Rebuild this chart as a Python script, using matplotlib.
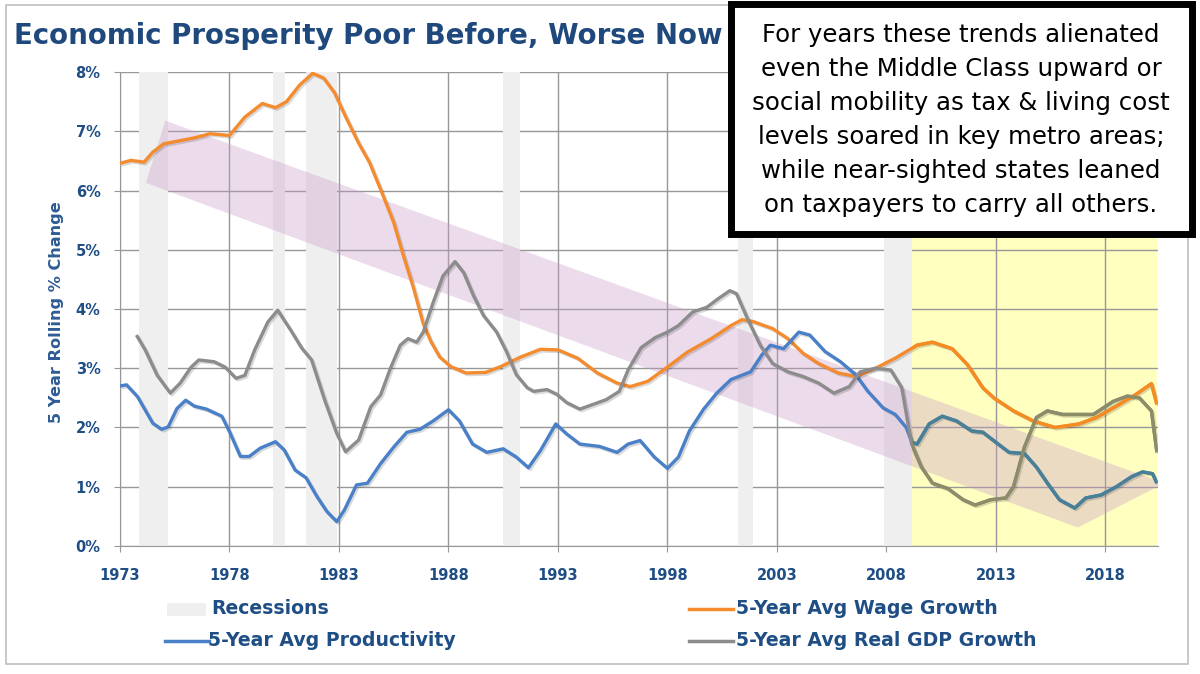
import numpy as np
import matplotlib
matplotlib.use("Agg")
import matplotlib.pyplot as plt
from matplotlib.patches import Rectangle, Polygon
from matplotlib.lines import Line2D
import matplotlib.patheffects as pe

plt.rcParams['font.family'] = ['DejaVu Sans']

# 5-year rolling % change
wage_years = [1973.0, 1973.5, 1974.1, 1974.5, 1975.0, 1975.7, 1976.4, 1977.1, 1978.0, 1978.7,
              1979.5, 1980.1, 1980.6, 1981.2, 1981.8, 1982.3, 1982.8, 1983.3, 1983.9, 1984.4,
              1984.9, 1985.5, 1985.9, 1986.4, 1986.85, 1987.2, 1987.6, 1988.1, 1988.8, 1989.7,
              1990.4, 1991.3, 1992.2, 1993.0, 1993.9, 1994.8, 1995.7, 1996.3, 1997.1, 1998.0,
              1998.9, 2000.0, 2000.9, 2001.4, 2001.9, 2002.8, 2003.5, 2004.2, 2004.9, 2005.8,
              2006.6, 2007.5, 2008.4, 2008.9, 2009.4, 2010.1, 2011.0, 2011.7, 2012.4, 2012.9,
              2013.8, 2014.7, 2015.7, 2016.8, 2017.6, 2018.5, 2019.4, 2020.1, 2020.35]
wage_vals = [6.46, 6.51, 6.48, 6.65, 6.79, 6.84, 6.89, 6.96, 6.93, 7.24,
             7.47, 7.40, 7.50, 7.78, 7.98, 7.90, 7.65, 7.25, 6.80, 6.47,
             6.02, 5.46, 4.95, 4.36, 3.75, 3.45, 3.19, 3.03, 2.92, 2.93,
             3.03, 3.19, 3.32, 3.31, 3.17, 2.92, 2.75, 2.69, 2.78, 3.02,
             3.27, 3.50, 3.72, 3.82, 3.79, 3.67, 3.50, 3.25, 3.08, 2.92,
             2.86, 3.00, 3.17, 3.28, 3.39, 3.44, 3.33, 3.06, 2.67, 2.50,
             2.28, 2.11, 2.00, 2.06, 2.17, 2.36, 2.56, 2.74, 2.39]

prod_years = [1973.0, 1973.3, 1973.8, 1974.5, 1974.9, 1975.2, 1975.6, 1976.0, 1976.4, 1976.95,
              1977.65, 1978.0, 1978.5, 1978.9, 1979.4, 1980.1, 1980.5, 1981.0, 1981.5, 1982.0,
              1982.45, 1982.9, 1983.25, 1983.8, 1984.3, 1984.9, 1985.5, 1986.1, 1986.7, 1987.3,
              1988.0, 1988.5, 1989.1, 1989.75, 1990.5, 1991.1, 1991.65, 1992.2, 1992.9, 1993.4,
              1994.0, 1994.9, 1995.7, 1996.2, 1996.75, 1997.4, 1998.0, 1998.5, 1999.0, 1999.65,
              2000.25, 2000.9, 2001.8, 2002.3, 2002.7, 2003.3, 2004.0, 2004.5, 2005.2, 2005.9,
              2006.6, 2007.15, 2007.85, 2008.4, 2008.9, 2009.16, 2009.4, 2009.95, 2010.55, 2011.2,
              2011.9, 2012.4, 2013.1, 2013.6, 2014.3, 2014.85, 2015.35, 2015.9, 2016.6, 2017.1,
              2017.8, 2018.5, 2019.2, 2019.7, 2020.15, 2020.35]
prod_vals = [2.70, 2.72, 2.52, 2.07, 1.97, 2.01, 2.32, 2.46, 2.36, 2.31,
             2.19, 1.93, 1.51, 1.51, 1.65, 1.76, 1.62, 1.28, 1.15, 0.83,
             0.58, 0.41, 0.61, 1.03, 1.06, 1.39, 1.67, 1.92, 1.97, 2.11,
             2.30, 2.11, 1.72, 1.58, 1.64, 1.50, 1.32, 1.61, 2.06, 1.89,
             1.72, 1.68, 1.58, 1.72, 1.78, 1.50, 1.31, 1.50, 1.94, 2.31,
             2.58, 2.81, 2.94, 3.22, 3.39, 3.33, 3.61, 3.56, 3.28, 3.11,
             2.89, 2.61, 2.33, 2.22, 2.00, 1.75, 1.72, 2.06, 2.19, 2.11,
             1.94, 1.92, 1.72, 1.58, 1.56, 1.33, 1.06, 0.78, 0.64, 0.81,
             0.86, 1.00, 1.17, 1.25, 1.22, 1.06]

gdp_years = [1973.75, 1974.15, 1974.7, 1975.3, 1975.75, 1976.25, 1976.6, 1977.3, 1977.8, 1978.3,
             1978.7, 1979.15, 1979.75, 1980.2, 1980.8, 1981.3, 1981.75, 1982.35, 1982.9, 1983.3,
             1983.9, 1984.45, 1984.9, 1985.35, 1985.8, 1986.15, 1986.55, 1986.85, 1987.3, 1987.75,
             1988.3, 1988.7, 1989.15, 1989.6, 1990.2, 1990.65, 1991.1, 1991.6, 1991.9, 1992.5,
             1992.95, 1993.4, 1994.0, 1994.6, 1995.2, 1995.8, 1996.2, 1996.8, 1997.45, 1998.0,
             1998.5, 1999.15, 1999.8, 2000.3, 2000.85, 2001.15, 2001.7, 2002.25, 2002.8, 2003.5,
             2004.2, 2004.9, 2005.6, 2006.3, 2006.8, 2007.5, 2008.2, 2008.7, 2009.15, 2009.6,
             2010.1, 2010.8, 2011.5, 2012.05, 2012.75, 2013.45, 2013.8, 2014.3, 2014.85, 2015.35,
             2016.05, 2016.75, 2017.45, 2018.35, 2019.0, 2019.55, 2020.1, 2020.35]
gdp_vals = [3.56, 3.31, 2.88, 2.58, 2.75, 3.02, 3.14, 3.11, 3.02, 2.83,
            2.88, 3.31, 3.78, 3.98, 3.64, 3.34, 3.14, 2.46, 1.90, 1.59,
            1.79, 2.35, 2.55, 3.00, 3.39, 3.50, 3.44, 3.61, 4.11, 4.56,
            4.80, 4.61, 4.22, 3.89, 3.61, 3.28, 2.89, 2.67, 2.61, 2.64,
            2.56, 2.42, 2.31, 2.39, 2.47, 2.61, 2.97, 3.35, 3.52, 3.61,
            3.72, 3.95, 4.03, 4.17, 4.31, 4.26, 3.80, 3.38, 3.08, 2.94,
            2.86, 2.75, 2.58, 2.69, 2.94, 3.00, 2.97, 2.67, 1.72, 1.33,
            1.06, 0.97, 0.78, 0.69, 0.78, 0.81, 1.00, 1.67, 2.17, 2.28,
            2.22, 2.22, 2.22, 2.44, 2.53, 2.50, 2.28, 1.58]

recessions = [(1973.85, 1975.2), (1980.0, 1980.55), (1981.5, 1982.9),
              (1990.5, 1991.25), (2001.2, 2001.9), (2007.9, 2009.15)]
highlight = (2009.15, 2020.35)
trend_band = [(1975.07, 7.18), (2020.69, 1.06), (2016.74, 0.31), (1974.18, 6.13)]
year_ticks = list(range(1973, 2019, 5))

TITLE_BLUE = '#1F497D'
TEXT_BLUE = '#1F4E85'
ORANGE = '#F58B2F'
BLUE = '#4A80C8'
GREY = '#8C8C8C'


def tint(c):
    # multiply a colour by the pale yellow of the highlight area
    r, g, b = matplotlib.colors.to_rgb(c)
    return (r, g, b * 0.75)


fig = plt.figure(figsize=(12, 6.74), dpi=100)
ax = fig.add_axes([0.1, 0.19, 0.865, 0.703])
ax.set_xlim(1973, 2020.4)
ax.set_ylim(0, 8)

# background layers
ax.axvspan(*highlight, color='#FFFFC0', zorder=0.2, lw=0)
ax.set_axisbelow(True)
ax.grid(True, color='#989898', lw=1.0)
for a, b in recessions:
    ax.axvspan(a, b, color='#EFEFEF', zorder=1, lw=0)
ax.add_patch(Polygon(trend_band, closed=True, facecolor='#C79AC8', alpha=0.35,
                     edgecolor='none', zorder=1.5))

yellow_clip = Rectangle((highlight[0], 0), highlight[1] - highlight[0], 8,
                        transform=ax.transData, visible=False)
ax.add_patch(yellow_clip)

shadow = [pe.SimpleLineShadow(offset=(1.2, -1.2), alpha=0.15, rho=0.3), pe.Normal()]
series = [(wage_years, wage_vals, ORANGE), (prod_years, prod_vals, BLUE),
          (gdp_years, gdp_vals, GREY)]
for xs, ys, col in series:
    ax.plot(xs, ys, color=col, lw=2.4, zorder=3, path_effects=shadow,
            solid_joinstyle='round', solid_capstyle='butt')
for xs, ys, col in series:
    ln, = ax.plot(xs, ys, color=tint(col), lw=2.4, zorder=3.1,
                  solid_joinstyle='round', solid_capstyle='butt')
    ln.set_clip_path(yellow_clip)

ax.set_xticks(year_ticks)
ax.set_yticks(range(0, 9))
ax.yaxis.set_major_formatter(matplotlib.ticker.FuncFormatter(lambda v, p: f'{int(v)}%'))
ax.tick_params(axis='both', colors='#989898', length=4, labelcolor=TEXT_BLUE,
               labelsize=10.5)
ax.tick_params(axis='x', pad=12)
ax.tick_params(axis='y', pad=10)
for lbl in ax.get_xticklabels() + ax.get_yticklabels():
    lbl.set_fontweight('bold')
for s in ['top', 'right']:
    ax.spines[s].set_visible(False)
for s in ['left', 'bottom']:
    ax.spines[s].set_color('#989898')
    ax.spines[s].set_zorder(2)


def px(x, y):
    return x / 1200, 1 - y / 674


fig.text(*px(57, 312), '5 Year Rolling % Change', rotation=90,
         ha='center', va='center', fontsize=11.6, fontweight='bold', color='#2E5C94')

# title
fig.text(*px(14, 44), 'Economic Prosperity Poor Before, Worse Now',
         ha='left', va='baseline', fontsize=19.9, fontweight='bold', color=TITLE_BLUE)

# outer frame
fig.add_artist(Rectangle(px(6, 664), 1182 / 1200, 659 / 674,
                         transform=fig.transFigure, fill=False, edgecolor='#BFBFBF', lw=1.2))

# legend drawn by hand
fig.add_artist(Rectangle(px(167, 616), 39 / 1200, 13 / 674, transform=fig.transFigure,
                         facecolor='#EFEFEF', edgecolor='none'))
for (x0, y0), col in [((689, 609), ORANGE), ((165, 641), BLUE), ((689, 641), GREY)]:
    (fx0, fy), (fx1, _) = px(x0, y0), px(x0 + 44, y0)
    fig.add_artist(Line2D([fx0, fx1], [fy, fy], transform=fig.transFigure,
                          color=col, lw=2.5))
leg_items = [((211, 609), 'Recessions'), ((736, 609), '5-Year Avg Wage Growth'),
             ((208, 641), '5-Year Avg Productivity'), ((736, 641), '5-Year Avg Real GDP Growth')]
for (x0, y0), txt in leg_items:
    fig.text(*px(x0, y0), txt, ha='left', va='center', fontsize=13.6,
             fontweight='bold', color=TEXT_BLUE)

# annotation box
fig.add_artist(Rectangle(px(730.5, 233.5), 461 / 1200, 230 / 674, transform=fig.transFigure,
                         facecolor='white', edgecolor='black', lw=5, zorder=10))
note = ('For years these trends alienated\n'
        'even the Middle Class upward or\n'
        'social mobility as tax & living cost\n'
        'levels soared in key metro areas;\n'
        'while near-sighted states leaned\n'
        'on taxpayers to carry all others.')
fig.text(*px(961, 120), note, ha='center', va='center', fontsize=17.6,
         linespacing=1.52, color='black', zorder=11)

fig.savefig('out.png', dpi=100)
